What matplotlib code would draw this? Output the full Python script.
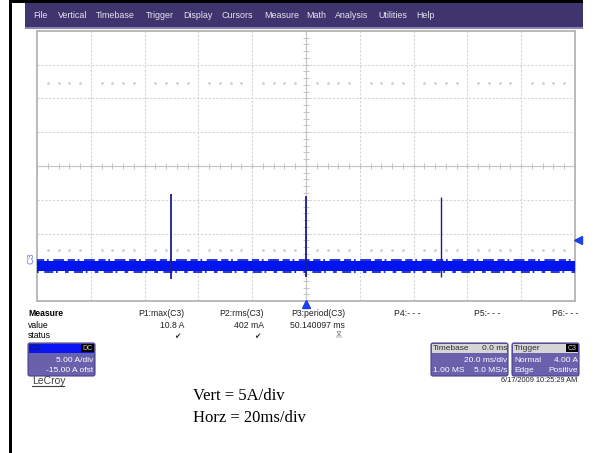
import matplotlib
matplotlib.use('Agg')
import numpy as np
from matplotlib import pyplot as plt
from matplotlib.patches import Rectangle, FancyBboxPatch

plt.rcParams['font.family'] = ['Liberation Sans', 'DejaVu Sans']

# scope settings
volts_per_div = 5.0      # A/div
offset = -15.0           # A
ms_per_div = 20.0
trigger_level = 4.0

# trace: noise band and the three pulses
band_lo = -0.6
band_hi = 0.95
fringe_hi = 1.1
fringe_lo = -0.72
spike_t = [-50.14, 0.0, 50.14]
spike_top = [10.9, 10.6, 10.4]
spike_bot = [-1.7, -1.5, -1.4]

menu_items = ['File', 'Vertical', 'Timebase', 'Trigger', 'Display', 'Cursors',
              'Measure', 'Math', 'Analysis', 'Utilities', 'Help']
menu_x = [33, 58, 96, 146, 183, 221, 264, 306, 335, 378, 416]

meas_heads = ['P1:max(C3)', 'P2:rms(C3)', 'P3:period(C3)', 'P4:- - -', 'P5:- - -', 'P6:- - -']
meas_values = ['10.8 A', '402 mA', '50.140097 ms', '', '', '']
meas_status = ['\u2714', '\u2714', '\u046a', '', '', '']
meas_x = [184, 264, 345, 420, 500, 578]

W, H = 596, 453
fig = plt.figure(figsize=(W / 100, H / 100), dpi=100)

bg = fig.add_axes([0, 0, 1, 1])
bg.set_xlim(0, W)
bg.set_ylim(H, 0)
bg.axis('off')

# page borders
bg.add_patch(Rectangle((9, 0), 3, H, color='black', lw=0))
bg.add_patch(Rectangle((9, 0), 574, 2.5, color='black', lw=0))

# menu bar
bg.add_patch(Rectangle((25, 3), 558, 25, color='#40346f', lw=0))
bg.add_patch(Rectangle((25, 27), 558, 2, color='#8c84b4', lw=0))
for name, x in zip(menu_items, menu_x):
    bg.text(x, 16, name, color='#e4e4f2', fontsize=6.4, va='center', ha='left')

# ---- scope grid ----
x0, x1, y0, y1 = 37, 575, 31, 301
ax = fig.add_axes([x0 / W, (H - y1) / H, (x1 - x0) / W, (y1 - y0) / H])
ycen = -offset  # value at screen centre
ax.set_xlim(-5 * ms_per_div, 5 * ms_per_div)
ax.set_ylim(ycen - 4 * volts_per_div, ycen + 4 * volts_per_div)
ax.set_xticks([])
ax.set_yticks([])
for s in ax.spines.values():
    s.set_color('#b4b4b4')
    s.set_linewidth(1.3)

grid_kw = dict(color='#d4d4d4', lw=0.8, ls=(0, (2, 1.5)), zorder=1)
for i in range(-4, 5):
    if i != 0:
        ax.axvline(i * ms_per_div, **grid_kw)
for j in range(-3, 4):
    if j != 0:
        ax.axhline(ycen + j * volts_per_div, **grid_kw)

# center axes with minor ticks
ax.axvline(0, color='#c8c8c8', lw=0.9, zorder=1)
ax.axhline(ycen, color='#c8c8c8', lw=0.9, zorder=1)
sub_y = np.arange(ycen - 4 * volts_per_div, ycen + 4 * volts_per_div + 0.1, volts_per_div / 5)
sub_x = np.arange(-5 * ms_per_div, 5 * ms_per_div + 0.1, ms_per_div / 5)
ax.plot(np.zeros_like(sub_y), sub_y, ls='none', marker='_', ms=4.5, mew=0.7, color='#c4c4c4', zorder=1)
ax.plot(sub_x, np.full_like(sub_x, ycen), ls='none', marker='|', ms=4.5, mew=0.7, color='#c4c4c4', zorder=1)

# dotted rows
dots_x = sub_x[(np.abs(sub_x) % ms_per_div) > 0.5]
for yy in [27.3, 2.5]:
    ax.plot(dots_x, np.full_like(dots_x, yy), ls='none', marker='s', ms=0.8, color='#c8c8c8', zorder=1)

# trace
ax.fill_between([-5 * ms_per_div, 5 * ms_per_div], band_lo, band_hi, color='#0014f0', lw=0, zorder=3)
ax.axhline(fringe_hi, color='#1428c8', lw=1.3, ls=(0, (4, 1.5, 1, 2.5, 6, 2)), zorder=3)
ax.axhline(fringe_lo, color='#1428c8', lw=1.3, ls=(1, (2, 3, 5, 1.5, 1, 4)), zorder=3)
ax.vlines(spike_t, spike_bot, spike_top, color='#1c1c90', lw=[1.3, 1.3, 1.0], zorder=4)

# markers
ax.plot([5 * ms_per_div + 1.1], [trigger_level], marker='<', ms=5.5, color='#1f3fe8', clip_on=False, zorder=5)
ax.plot([0], [ycen - 4 * volts_per_div - 0.5], marker='^', ms=5.5, color='#1f3fe8', clip_on=False, zorder=5)
ax.text(-5 * ms_per_div - 2.3, 1.3, 'C3', rotation=90, fontsize=6.5, color='#6a7ae8',
        ha='center', va='center', clip_on=False)

# ---- measure table ----
bg.text(28, 314, 'Measure', fontsize=6.2, weight='bold', va='center')
bg.text(28, 325, 'value', fontsize=6.2, va='center')
bg.text(28, 336, 'status', fontsize=6.2, va='center')
for head, val, st, x in zip(meas_heads, meas_values, meas_status, meas_x):
    bg.text(x, 314, head, fontsize=6.2, ha='right', va='center', color='#202020')
    bg.text(x, 325, val, fontsize=6.2, ha='right', va='center', color='#202020')
    if st:
        bg.text(x - 4, 336, st, fontsize=5.5, ha='right', va='center',
                color='#303030' if st == '\u2714' else '#909090', family='DejaVu Sans')


def box(xl, xr, yt, yb, head_color):
    bg.add_patch(FancyBboxPatch((xl, yt), xr - xl, yb - yt, boxstyle='round,pad=0,rounding_size=2',
                                fc='#6a61ad', ec='#4a4290', lw=0.8))
    bg.add_patch(Rectangle((xl + 1, yt + 1), xr - xl - 2, 9, color=head_color, lw=0))


# channel box
box(28, 95, 343, 376, '#0a14f0')
bg.text(30, 348, 'C3', fontsize=6, color='#101050', va='center')
bg.add_patch(Rectangle((81, 344), 13, 8, color='black', lw=0))
bg.text(87.5, 348, 'DC', fontsize=5, color='#d0d0d0', va='center', ha='center')
bg.text(93, 360, '5.00 A/div', fontsize=6, color='white', ha='right', va='center')
bg.text(93, 370, '-15.00 A ofst', fontsize=6, color='white', ha='right', va='center')

# timebase box
box(431, 508, 343, 376, '#d6d6d6')
bg.text(433, 348, 'Timebase', fontsize=6, color='#303030', va='center')
bg.text(507, 348, '0.0 ms', fontsize=6, color='#303030', va='center', ha='right')
bg.text(507, 360, '20.0 ms/div', fontsize=6, color='white', ha='right', va='center')
bg.text(433, 370, '1.00 MS', fontsize=6, color='white', va='center')
bg.text(507, 370, '5.0 MS/s', fontsize=6, color='white', ha='right', va='center')

# trigger box
box(512, 579, 343, 376, '#d6d6d6')
bg.text(514, 348, 'Trigger', fontsize=6, color='#303030', va='center')
bg.add_patch(Rectangle((566, 344), 12, 8, color='black', lw=0))
bg.text(572, 348, 'C3', fontsize=5, color='#d0d0d0', va='center', ha='center')
bg.text(514, 360, 'Normal', fontsize=6, color='white', va='center')
bg.text(578, 360, '4.00 A', fontsize=6, color='white', ha='right', va='center')
bg.text(514, 370, 'Edge', fontsize=6, color='white', va='center')
bg.text(578, 370, 'Positive', fontsize=6, color='white', ha='right', va='center')

# logo and date
bg.text(32, 381, 'LeCroy', fontsize=7.5, color='#404040', va='center')
bg.plot([32, 64], [386, 386], color='#404040', lw=0.8)
bg.text(577, 381, '6/17/2009 10:25:29 AM', fontsize=5.3, color='#202020', ha='right', va='center')

# notes
bg.text(193, 396, 'Vert = 5A/div', fontsize=12, family='Liberation Serif', va='center')
bg.text(193, 418, 'Horz = 20ms/div', fontsize=12, family='Liberation Serif', va='center')

fig.savefig('out.png', dpi=100)
